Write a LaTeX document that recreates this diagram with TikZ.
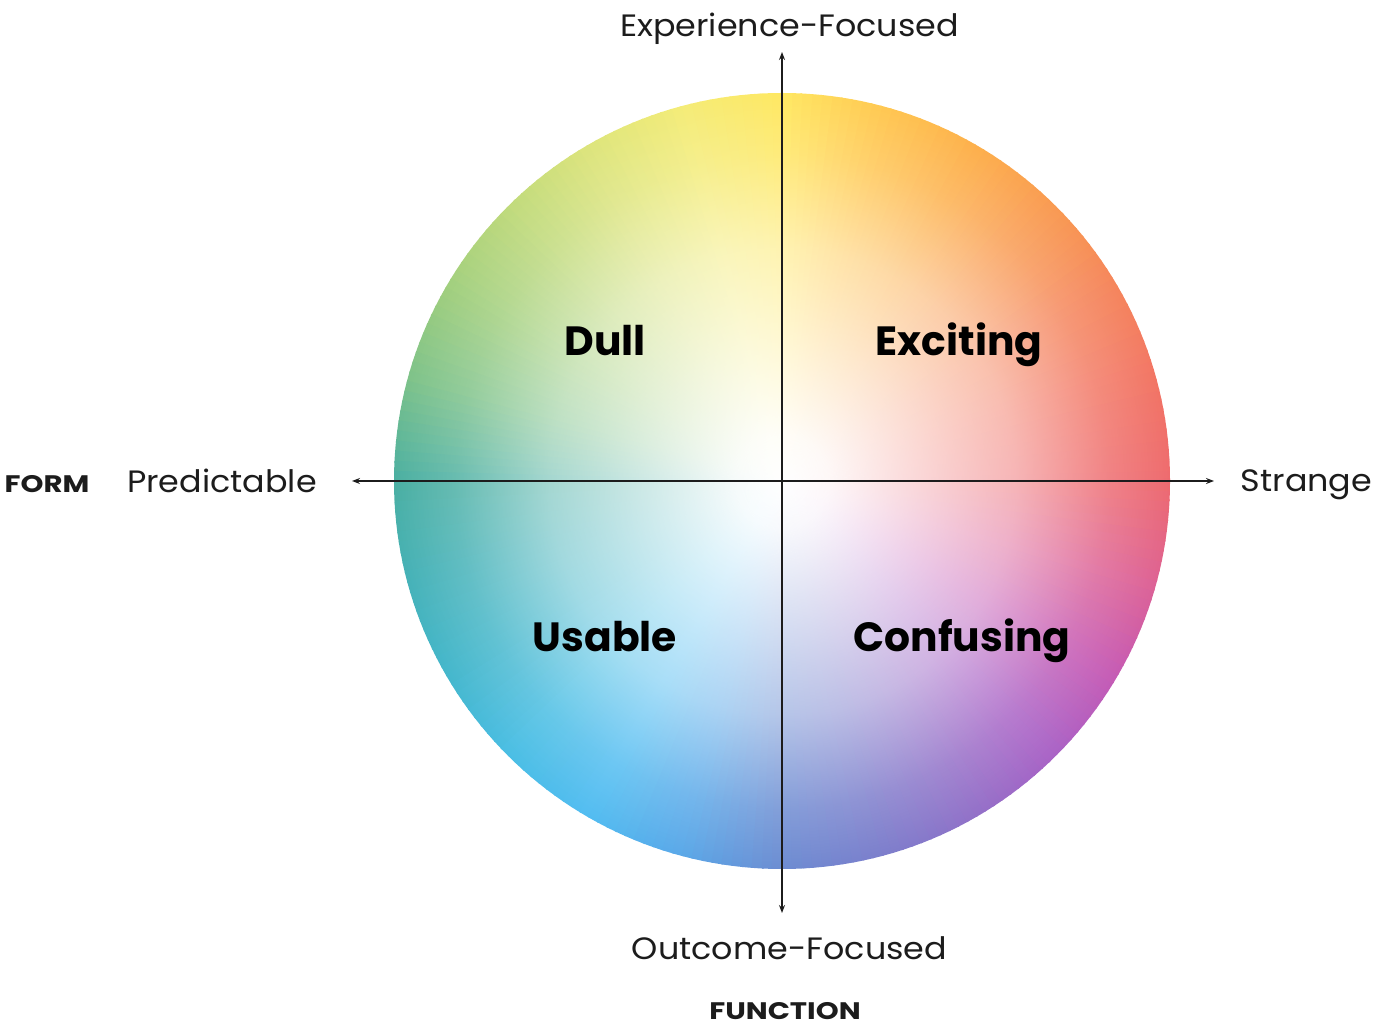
\documentclass[tikz,border=0pt]{standalone}
\usepackage{fontspec}
\setmainfont{Poppins}
\newfontfamily\regfont{Poppins}[FakeStretch=1.08]
\newfontfamily\widebold{Poppins}[FakeStretch=1.22]
\usetikzlibrary{arrows.meta,fadings}
\definecolor{s0}{HTML}{EE6A6E}
\definecolor{s15}{HTML}{F27565}
\definecolor{s30}{HTML}{F5855C}
\definecolor{s45}{HTML}{F99A52}
\definecolor{s60}{HTML}{FDB04C}
\definecolor{s75}{HTML}{FFC852}
\definecolor{s90}{HTML}{FFE862}
\definecolor{s105}{HTML}{F4EC78}
\definecolor{s120}{HTML}{DDE57C}
\definecolor{s135}{HTML}{C0DA7C}
\definecolor{s150}{HTML}{A1CF7E}
\definecolor{s165}{HTML}{7DC28A}
\definecolor{s180}{HTML}{4AAFA2}
\definecolor{s195}{HTML}{45B2B8}
\definecolor{s210}{HTML}{44B7CC}
\definecolor{s225}{HTML}{4ABEE4}
\definecolor{s240}{HTML}{52BDF2}
\definecolor{s255}{HTML}{5AA8E8}
\definecolor{s270}{HTML}{6C8CD2}
\definecolor{s285}{HTML}{7C7ECC}
\definecolor{s300}{HTML}{9270C8}
\definecolor{s315}{HTML}{AA62C6}
\definecolor{s330}{HTML}{C65AB4}
\definecolor{s345}{HTML}{DE6294}
\definecolor{ink}{HTML}{1C1C1C}
\pgfdeclareradialshading{wfadesh}{\pgfpointorigin}{color(0bp)=(white); color(3bp)=(black!5); color(7.5bp)=(black!22); color(15bp)=(black!50); color(21bp)=(black!84); color(25bp)=(black); color(50bp)=(black)}
\pgfdeclarefading{wfade}{\pgfuseshading{wfadesh}}
\tikzset{
  axislabel/.style={text=ink, inner sep=0pt, anchor=base, font=\regfont\fontsize{31}{31}\selectfont},
  titlelabel/.style={text=ink, inner sep=0pt, anchor=base, font=\widebold\fontsize{24}{24}\selectfont\bfseries},
  quadlabel/.style={text=black, inner sep=0pt, anchor=base, font=\fontsize{41}{41}\selectfont\bfseries},
  axisline/.style={draw=ink, line width=1.3bp, {Stealth[length=8bp,width=6bp]}-{Stealth[length=8bp,width=6bp]}}
}
\begin{document}
\begin{tikzpicture}[x=1bp,y=1bp]
\useasboundingbox (0,0) rectangle (1400,1030);
\coordinate (C) at (782,549);
% conic colour wheel
\begin{scope}
\clip (C) circle[radius=388];
\foreach \a/\ca/\cb in {0/s0/s15,15/s15/s30,30/s30/s45,45/s45/s60,60/s60/s75,75/s75/s90,90/s90/s105,105/s105/s120,120/s120/s135,135/s135/s150,150/s150/s165,165/s165/s180,180/s180/s195,195/s195/s210,210/s210/s225,225/s225/s240,240/s240/s255,255/s255/s270,270/s270/s285,285/s285/s300,300/s300/s315,315/s315/s330,330/s330/s345,345/s345/s0}{
  \foreach \k in {0,...,9}{
    \pgfmathsetmacro\p{100-(\k+0.5)*10}
    \pgfmathsetmacro\ang{\a+\k*1.5}
    \pgfmathsetmacro\angb{\ang+1.8}
    \fill[\ca!\p!\cb] (C) -- ++(\ang:400) arc[start angle=\ang, end angle=\angb, radius=400] -- cycle;
  }
}
\end{scope}
\fill[white, path fading=wfade] (C) circle[radius=388];
% axes
\coordinate (L) at (352,549);
\coordinate (R) at (1214,549);
\coordinate (T) at (782,978);
\coordinate (B) at (782,117);
\draw[axisline] (L) -- (R);
\draw[axisline] (B) -- (T);
% labels
\node[axislabel] (exp) at (789.5,993) {Experience-Focused};
\node[axislabel] (out) at (789.5,71) {Outcome-Focused};
\node[axislabel] (pred) at (222,537) {Predictable};
\node[axislabel] (str) at (1306.5,538) {Strange};
\node[titlelabel] (form) at (47,537) {FORM};
\node[titlelabel] (func) at (785,11) {FUNCTION};
\node[quadlabel] (dull) at (605,674) {Dull};
\node[quadlabel] (exc) at (959,674) {Exciting};
\node[quadlabel] (usa) at (605,378) {Usable};
\node[quadlabel] (con) at (962,378) {Confusing};
\end{tikzpicture}
\end{document}
